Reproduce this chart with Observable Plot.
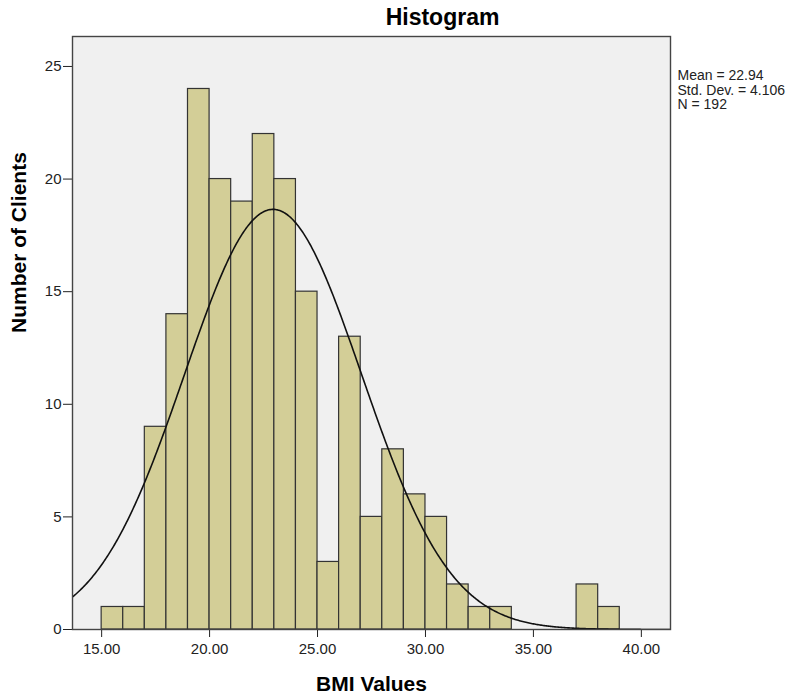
<!DOCTYPE html>
<html>
<head>
<meta charset="utf-8">
<script src="https://cdn.jsdelivr.net/npm/d3@7"></script>
<script src="https://cdn.jsdelivr.net/npm/@observablehq/plot@0.6"></script>
<style>
  html, body { margin: 0; padding: 0; background: #fff; }
</style>
</head>
<body>
<div id="chart"></div>
<script>
// Bin lower edges (width 1) and counts
const binStarts = [15, 16, 17, 18, 19, 20, 21, 22, 23, 24, 25, 26, 27, 28, 29, 30, 31, 32, 33, 34, 35, 36, 37, 38];
const counts    = [ 1,  1,  9, 14, 24, 20, 19, 22, 20, 15,  3, 13,  5,  8,  6,  5,  2,  1,  1,  0,  0,  0,  2,  1];
const binWidth = 1;

// Summary statistics shown on the chart
const mean = 22.94;
const stdDev = 4.106;
const n = 192;

const xTicks = [15, 20, 25, 30, 35, 40];
const yTicks = [0, 5, 10, 15, 20, 25];

const title = "Histogram";
const xLabel = "BMI Values";
const yLabel = "Number of Clients";
const statsText = [`Mean = ${mean.toFixed(2)}`, `Std. Dev. = ${stdDev.toFixed(3)}`, `N = ${n}`].join("\n");

const xDomain = [13.65, 41.35];
const yDomain = [0, 26.33];

const bins = binStarts
  .map((s, i) => ({ x1: s, x2: s + binWidth, count: counts[i] }))
  .filter(d => d.count > 0);

// Fitted normal curve from the stated mean, std. dev. and N
const curve = d3.range(xDomain[0], xDomain[1] + 0.05, 0.05).map(x => ({
  x,
  y: n * binWidth * Math.exp(-0.5 * ((x - mean) / stdDev) ** 2) / (stdDev * Math.sqrt(2 * Math.PI))
}));

const chart = Plot.plot({
  width: 804,
  height: 700,
  marginLeft: 72,
  marginRight: 134,
  marginTop: 36,
  marginBottom: 71,
  style: { fontFamily: "'Liberation Sans', Arial, sans-serif", fontSize: "15px", color: "#222", background: "#fff" },
  x: { domain: xDomain, ticks: xTicks, tickFormat: d => d.toFixed(2), tickSize: 8, tickPadding: 6, label: null },
  y: { domain: yDomain, ticks: yTicks, tickFormat: d => String(d), tickSize: 9, tickPadding: 2, label: null },
  marks: [
    Plot.frame({ fill: "#f0f0f0", stroke: null }),
    Plot.rectY(bins, { x1: "x1", x2: "x2", y: "count", fill: "#d3ce97", stroke: "#333", strokeWidth: 1.2, inset: 0 }),
    Plot.line(curve, { x: "x", y: "y", stroke: "#111", strokeWidth: 1.6, clip: true }),
    Plot.frame({ stroke: "#444", strokeWidth: 1.4 }),
    Plot.text([title], { frameAnchor: "top", dx: 71, dy: -19, fontSize: 23, fontWeight: "bold", fill: "#000", lineAnchor: "middle" }),
    Plot.text([xLabel], { frameAnchor: "bottom", dy: 55, fontSize: 21, fontWeight: "bold", fill: "#000", lineAnchor: "middle" }),
    Plot.text([yLabel], { frameAnchor: "left", dx: -53, rotate: -90, fontSize: 21, fontWeight: "bold", fill: "#000", lineAnchor: "middle" }),
    Plot.text([statsText], { frameAnchor: "top-right", dx: 7, dy: 33, textAnchor: "start", lineAnchor: "top", fontSize: 14, lineHeight: 1.05, fill: "#222" })
  ]
});

document.getElementById("chart").append(chart);
</script>
</body>
</html>
